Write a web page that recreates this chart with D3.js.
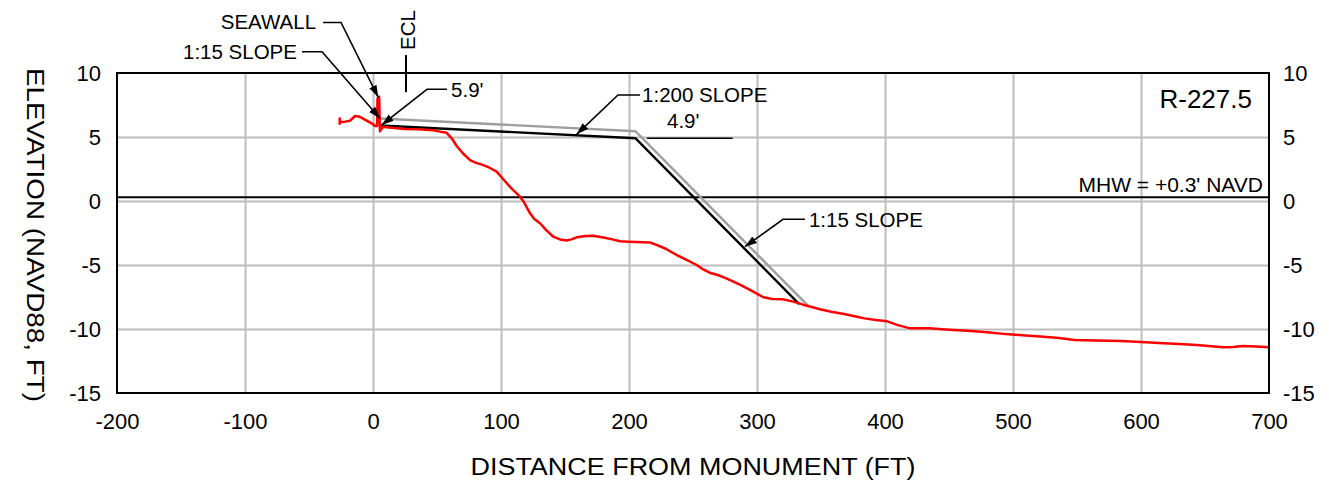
<!DOCTYPE html>
<html>
<head>
<meta charset="utf-8">
<script src="https://cdn.jsdelivr.net/npm/d3@7"></script>
<style>
  html, body { margin: 0; padding: 0; background: #fff; }
  svg { display: block; }
  text { font-family: "Liberation Sans", Arial, sans-serif; fill: #000; }
</style>
</head>
<body>
<svg id="chart" width="1329" height="485"></svg>
<script>
// ---------------- DATA ----------------
const xTicks = [-200, -100, 0, 100, 200, 300, 400, 500, 600, 700];
const yTicks = [-15, -10, -5, 0, 5, 10];

// Existing profile (red): distance (ft), elevation (ft NAVD88)
const profileDist = [-26, -26, -25.8, -22, -18, -14, -11, -8.8, -3.6, 0, 1.6, 3.2, 3.5, 4.8, 5.4, 6, 8, 12, 18.5, 25, 35, 47, 52.3, 57.5, 61.5, 65.4, 70, 75.8, 80, 86.2, 91, 96.6, 101.8, 108, 114.8, 118, 122.7, 126, 130.5, 135.5, 140.9, 146, 151.3, 155, 159.1, 166, 172, 180, 187, 193, 200, 216.4, 222, 229, 237.3, 245, 252.9, 258, 263, 270, 276, 281.5, 287, 294.5, 300.2, 305, 312, 320, 328.4, 336, 342, 349.2, 358, 369, 378, 384, 393, 401.7, 410, 419.7, 434.6, 450, 464.4, 480, 494.3, 510, 524, 536, 548, 565, 584, 600, 613.7, 630, 643.5, 655, 664.4, 672, 679.3, 690, 700];
const profileElev = [5.95, 6.45, 6.17, 6.2, 6.27, 6.64, 6.6, 6.5, 6.2, 6.0, 5.86, 5.85, 8.0, 8.15, 5.45, 5.55, 5.8, 5.75, 5.68, 5.62, 5.6, 5.52, 5.42, 5.33, 4.9, 4.3, 3.75, 3.2, 3.0, 2.8, 2.6, 2.29, 1.7, 1.0, 0.34, -0.1, -0.96, -1.4, -1.74, -2.3, -2.79, -3.0, -3.08, -3.0, -2.84, -2.74, -2.71, -2.85, -3.0, -3.15, -3.18, -3.24, -3.45, -3.75, -4.22, -4.6, -5.0, -5.35, -5.6, -5.8, -6.05, -6.3, -6.55, -6.95, -7.25, -7.52, -7.65, -7.68, -7.86, -8.1, -8.26, -8.46, -8.65, -8.85, -9.05, -9.17, -9.3, -9.4, -9.7, -9.95, -9.95, -10.05, -10.13, -10.25, -10.4, -10.5, -10.6, -10.7, -10.86, -10.9, -10.94, -11.02, -11.1, -11.18, -11.25, -11.35, -11.43, -11.4, -11.33, -11.36, -11.43];

// Design template (black) and construction template (gray)
const designDist = [5.5, 205, 333];
const designElev = [5.9, 4.9, -8.05];
const constrDist = [5.5, 205, 340];
const constrElev = [6.45, 5.45, -8.2];

const mhwElev = 0.3;
const eclDist = 25.8;
const stationLabel = "R-227.5";
const mhwLabel = "MHW = +0.3' NAVD";
const xTitle = "DISTANCE FROM MONUMENT (FT)";
const yTitle = "ELEVATION (NAVD88, FT)";

// Callouts in data coordinates: arrow tip, elbow, leader end, text anchor point
const callouts = [
  { label: "SEAWALL",     tip: [4.1, 8.1],     elbow: [-25, 13.95],  end: [-39, 13.95],  text: [-44.5, 13.4], anchor: "end" },
  { label: "1:15 SLOPE",  tip: [5.5, 6.45],    elbow: [-39.8, 11.66], end: [-55.5, 11.66], text: [-59.4, 11.1], anchor: "end" },
  { label: "5.9'",        tip: [6.8, 5.94],    elbow: [42.2, 8.73],  end: [57.8, 8.73],  text: [61, 8.16],    anchor: "start" },
  { label: "1:200 SLOPE", tip: [159.1, 5.21],  elbow: [191.4, 8.28], end: [208.6, 8.28], text: [210.2, 7.75], anchor: "start" },
  { label: "1:15 SLOPE",  tip: [290.6, -3.57], elbow: [320.3, -1.43], end: [337.5, -1.43], text: [340.6, -2.03], anchor: "start" }
];
const bermDimLabel = "4.9'";
const bermDim = { from: 214, to: 281, elev: 4.9, text: [229.7, 5.72] };
const eclLine = { top: 11.4, bottom: 8.5, text: [32.8, 13.36] };

// ---------------- DRAW ----------------
const m = { left: 117, right: 1269, top: 73, bottom: 393 };
const svg = d3.select("#chart");

const x = d3.scaleLinear().domain([-200, 700]).range([m.left, m.right]);
const y = d3.scaleLinear().domain([-15, 10]).range([m.bottom, m.top]);
const pw = m.right - m.left, ph = m.bottom - m.top;

const grid = "#bdbdbd";
const fmt = d => String(d); // plain hyphen minus, as in the reference

// Gridlines
svg.append("g")
  .attr("transform", `translate(0,${m.bottom})`)
  .call(d3.axisBottom(x).tickValues(xTicks.slice(1, -1)).tickSize(-ph).tickFormat(""))
  .call(g => g.select(".domain").remove())
  .call(g => g.selectAll("line").attr("stroke", grid).attr("stroke-width", 2));
svg.append("g")
  .attr("transform", `translate(${m.left},0)`)
  .call(d3.axisLeft(y).tickValues(yTicks.slice(1, -1)).tickSize(-pw).tickFormat(""))
  .call(g => g.select(".domain").remove())
  .call(g => g.selectAll("line").attr("stroke", grid).attr("stroke-width", 2));

// MHW line
svg.append("line")
  .attr("x1", m.left).attr("x2", m.right)
  .attr("y1", y(mhwElev)).attr("y2", y(mhwElev))
  .attr("stroke", "#000").attr("stroke-width", 2);

// Tick labels
const fontTick = 22;
function styleLabels(g) {
  g.select(".domain").remove();
  g.selectAll("line").remove();
  g.selectAll("text").attr("font-size", fontTick).attr("font-family", '"Liberation Sans", Arial, sans-serif').attr("fill", "#000");
}
svg.append("g")
  .attr("transform", `translate(${m.left},0)`)
  .call(d3.axisLeft(y).tickValues(yTicks).tickFormat(fmt).tickSize(0).tickPadding(16))
  .call(styleLabels);
svg.append("g")
  .attr("transform", `translate(${m.right},0)`)
  .call(d3.axisRight(y).tickValues(yTicks).tickFormat(fmt).tickSize(0).tickPadding(14))
  .call(styleLabels);
svg.append("g")
  .attr("transform", `translate(0,${m.bottom})`)
  .call(d3.axisBottom(x).tickValues(xTicks).tickFormat(fmt).tickSize(0).tickPadding(20))
  .call(styleLabels);

// Axis titles
svg.append("text")
  .attr("x", (m.left + m.right) / 2).attr("y", 475)
  .attr("text-anchor", "middle").attr("font-size", 23)
  .attr("textLength", 445).attr("lengthAdjust", "spacingAndGlyphs")
  .text(xTitle);
svg.append("text")
  .attr("transform", `translate(27,${(m.top + m.bottom) / 2 + 2}) rotate(90)`)
  .attr("text-anchor", "middle").attr("font-size", 23)
  .attr("textLength", 334).attr("lengthAdjust", "spacingAndGlyphs")
  .text(yTitle);

// Templates
const line = d3.line().x(d => x(d[0])).y(d => y(d[1]));
svg.append("path")
  .datum(constrDist.map((d, i) => [d, constrElev[i]]))
  .attr("d", line).attr("fill", "none").attr("stroke", "#9e9e9e").attr("stroke-width", 2.4);
svg.append("path")
  .datum(designDist.map((d, i) => [d, designElev[i]]))
  .attr("d", line).attr("fill", "none").attr("stroke", "#000").attr("stroke-width", 2.4);

// Existing profile
svg.append("path")
  .datum(profileDist.map((d, i) => [d, profileElev[i]]))
  .attr("d", line).attr("fill", "none").attr("stroke", "#ff0000")
  .attr("stroke-width", 2.5).attr("stroke-linejoin", "round");

// Frame
svg.append("rect")
  .attr("x", m.left).attr("y", m.top).attr("width", pw).attr("height", ph)
  .attr("fill", "none").attr("stroke", "#000").attr("stroke-width", 2);

// Arrow marker
svg.append("defs").append("marker")
  .attr("id", "arrow").attr("markerUnits", "userSpaceOnUse")
  .attr("markerWidth", 14).attr("markerHeight", 10)
  .attr("refX", 12).attr("refY", 4).attr("orient", "auto")
  .append("path").attr("d", "M0,0 L12,4 L0,8 Z").attr("fill", "#000");

// Callouts
const fontAnn = 20.5;
callouts.forEach(c => {
  svg.append("polyline")
    .attr("points", [c.end, c.elbow, c.tip].map(p => `${x(p[0])},${y(p[1])}`).join(" "))
    .attr("fill", "none").attr("stroke", "#000").attr("stroke-width", 1.6)
    .attr("marker-end", "url(#arrow)");
  svg.append("text")
    .attr("x", x(c.text[0])).attr("y", y(c.text[1]))
    .attr("text-anchor", c.anchor).attr("font-size", fontAnn)
    .text(c.label);
});

// Berm dimension
svg.append("line")
  .attr("x1", x(bermDim.from)).attr("x2", x(bermDim.to))
  .attr("y1", y(bermDim.elev)).attr("y2", y(bermDim.elev))
  .attr("stroke", "#000").attr("stroke-width", 1.6);
svg.append("text")
  .attr("x", x(bermDim.text[0])).attr("y", y(bermDim.text[1]))
  .attr("font-size", fontAnn).text(bermDimLabel);

// ECL
svg.append("line")
  .attr("x1", x(eclDist)).attr("x2", x(eclDist))
  .attr("y1", y(eclLine.top)).attr("y2", y(eclLine.bottom))
  .attr("stroke", "#000").attr("stroke-width", 2);
svg.append("text")
  .attr("transform", `translate(${x(eclLine.text[0])},${y(eclLine.text[1])}) rotate(-90)`)
  .attr("text-anchor", "middle").attr("font-size", 20.5).text("ECL");

// Station & MHW labels
svg.append("text")
  .attr("x", x(686.7)).attr("y", y(7.27))
  .attr("text-anchor", "end").attr("font-size", 26).text(stationLabel);
svg.append("text")
  .attr("x", x(695.3)).attr("y", y(0.7))
  .attr("text-anchor", "end").attr("font-size", 21).text(mhwLabel);
</script>
</body>
</html>
